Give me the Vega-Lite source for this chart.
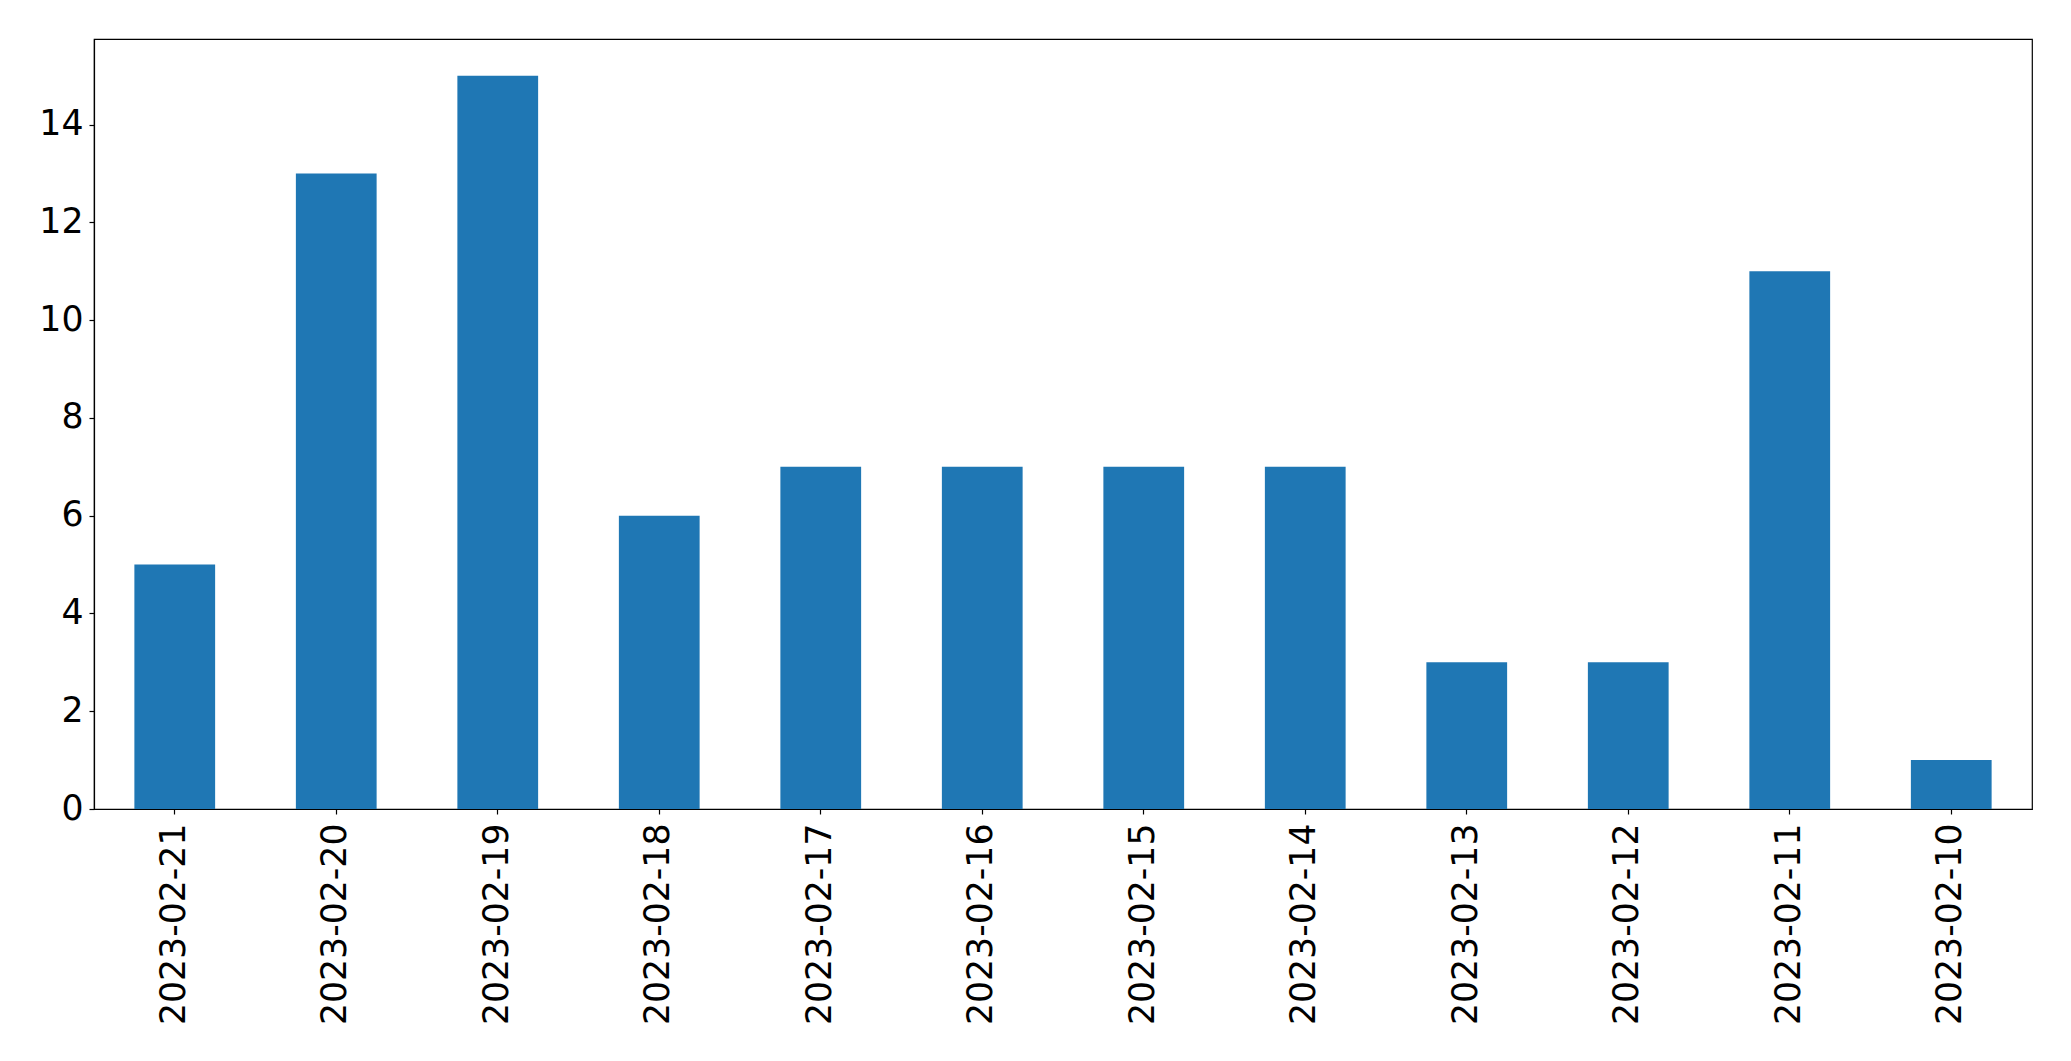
{
  "$schema": "https://vega.github.io/schema/vega-lite/v6.json",
  "width": 1938,
  "height": 770,
  "autosize": "none",
  "padding": {"left": 94, "top": 39, "right": 39, "bottom": 252},
  "background": "white",
  "config": {
    "font": "DejaVu Sans",
    "view": {"stroke": "black", "strokeWidth": 1.2},
    "axis": {"grid": false, "domainColor": "black", "tickColor": "black", "labelColor": "black", "labelFont": "DejaVu Sans", "labelFontSize": 34.7, "labelLimit": 0, "tickSize": 5, "domainWidth": 1.2, "tickWidth": 1.2, "titleFontSize": 0}
  },
  "data": {
    "values": [
      {"date": "2023-02-21", "count": 5},
      {"date": "2023-02-20", "count": 13},
      {"date": "2023-02-19", "count": 15},
      {"date": "2023-02-18", "count": 6},
      {"date": "2023-02-17", "count": 7},
      {"date": "2023-02-16", "count": 7},
      {"date": "2023-02-15", "count": 7},
      {"date": "2023-02-14", "count": 7},
      {"date": "2023-02-13", "count": 3},
      {"date": "2023-02-12", "count": 3},
      {"date": "2023-02-11", "count": 11},
      {"date": "2023-02-10", "count": 1}
    ]
  },
  "mark": {"type": "bar", "color": "#1f77b4"},
  "encoding": {
    "x": {
      "field": "date", "type": "nominal", "sort": null,
      "scale": {"paddingInner": 0.5, "paddingOuter": 0.25},
      "axis": {"title": null, "labelAngle": -90, "labelAlign": "right", "labelBaseline": "middle", "labelPadding": 9, "labelLimit": 0}
    },
    "y": {
      "field": "count", "type": "quantitative",
      "scale": {"domain": [0, 15.75], "nice": false, "zero": true},
      "axis": {"title": null, "values": [0, 2, 4, 6, 8, 10, 12, 14], "labelPadding": 6}
    }
  }
}
